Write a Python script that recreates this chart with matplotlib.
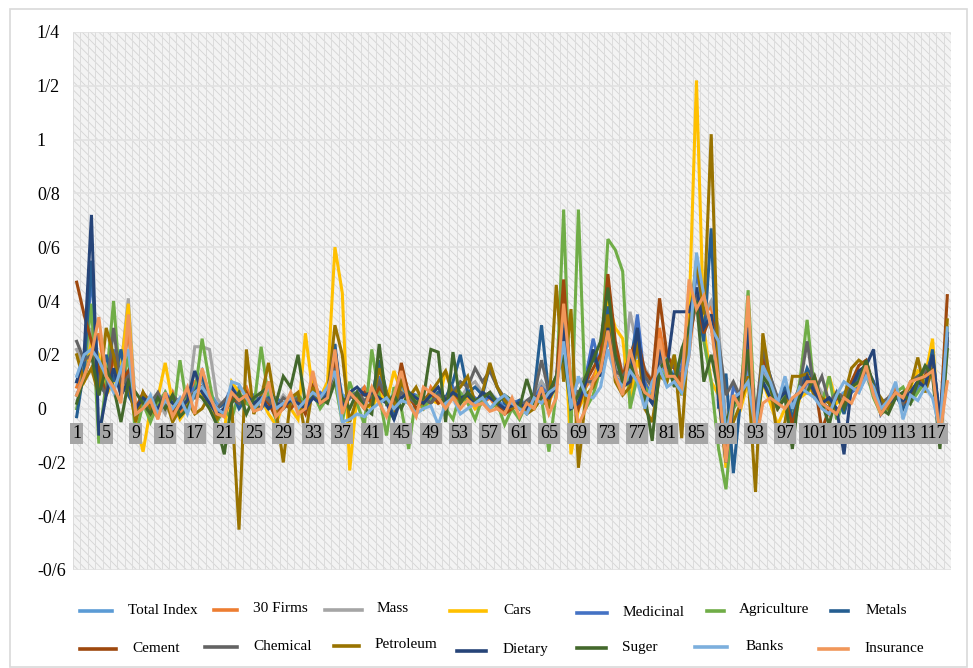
import matplotlib
matplotlib.use("Agg")
import matplotlib.pyplot as plt
from matplotlib.patches import Rectangle
from matplotlib.lines import Line2D
import numpy as np

names = ["Total Index", "30 Firms", "Mass", "Cars", "Medicinal", "Agriculture", "Metals",
         "Cement", "Chemical", "Petroleum", "Dietary", "Suger", "Banks", "Insurance"]
colors = ["#5B9BD5", "#ED7D31", "#A5A5A5", "#FFC000", "#4472C4", "#70AD47", "#255E91",
          "#9E480E", "#636363", "#997300", "#264478", "#43682B", "#7CAFDD", "#F1975A"]

total_index = [
    0.10, 0.18, 0.22, 0.15, 0.10, 0.20, 0.12, 0.30, -0.02, 0.04,
    0.00, 0.05, 0.02, 0.06, 0.00, 0.03, 0.08, 0.10, 0.06, 0.02,
    0.00, 0.05, 0.08, 0.06, 0.02, 0.04, 0.05, 0.00, 0.02, 0.03,
    0.04, 0.02, 0.10, 0.05, 0.06, 0.18, 0.05, 0.04, 0.06, 0.08,
    0.04, 0.10, 0.06, 0.02, 0.08, 0.04, 0.03, 0.02, 0.05, 0.06,
    0.03, 0.05, 0.04, 0.06, 0.03, 0.04, 0.06, 0.03, 0.01, 0.02,
    0.03, 0.02, 0.05, 0.10, 0.06, 0.12, 0.30, 0.08, 0.05, 0.12,
    0.10, 0.14, 0.25, 0.18, 0.12, 0.15, 0.20, 0.14, 0.08, 0.18,
    0.12, 0.14, 0.10, 0.25, 0.52, 0.40, 0.30, 0.18, -0.10, 0.02,
    0.05, 0.15, -0.05, 0.14, 0.06, 0.04, 0.08, 0.00, 0.05, 0.08,
    0.10, 0.02, 0.00, 0.04, 0.06, 0.08, 0.06, 0.12, 0.08, 0.00,
    0.02, 0.06, 0.03, 0.05, 0.08, 0.10, 0.20, -0.05, 0.25]
firms_30 = [
    0.08, 0.15, 0.20, 0.28, 0.10, 0.18, 0.05, 0.30, 0.00, 0.03,
    -0.02, 0.04, 0.00, 0.06, -0.02, 0.02, 0.10, 0.12, 0.04, 0.00,
    -0.03, 0.05, 0.06, 0.08, 0.00, 0.04, 0.10, -0.02, 0.00, 0.03,
    0.06, 0.00, 0.12, 0.03, 0.05, 0.20, 0.00, 0.06, 0.04, 0.08,
    0.02, 0.10, 0.05, 0.00, 0.15, 0.06, 0.02, 0.00, 0.08, 0.04,
    0.02, 0.04, 0.03, 0.05, 0.00, 0.02, 0.04, 0.00, -0.02, 0.01,
    0.03, 0.00, 0.05, 0.06, 0.02, 0.10, 0.40, 0.05, 0.00, 0.08,
    0.12, 0.18, 0.35, 0.15, 0.10, 0.20, 0.25, 0.12, 0.08, 0.30,
    0.15, 0.12, 0.05, 0.20, 0.45, 0.35, 0.38, 0.20, -0.15, 0.00,
    0.06, 0.35, -0.08, 0.18, 0.08, 0.02, 0.05, -0.05, 0.06, 0.10,
    0.12, 0.04, -0.02, 0.06, 0.04, 0.10, 0.14, 0.15, 0.06, 0.00,
    0.04, 0.08, 0.02, 0.06, 0.10, 0.12, 0.15, -0.08, 0.30]
mass = [
    0.22, 0.15, 0.30, 0.10, 0.05, 0.12, 0.15, 0.41, 0.00, 0.02,
    0.00, 0.03, -0.02, 0.05, 0.02, 0.00, 0.23, 0.23, 0.22, 0.04,
    0.00, 0.06, 0.02, 0.05, 0.00, 0.04, 0.02, 0.00, 0.05, 0.02,
    0.04, 0.00, 0.08, 0.02, 0.04, 0.12, 0.03, 0.00, 0.05, 0.06,
    0.02, 0.08, 0.04, 0.00, 0.06, 0.02, 0.04, 0.00, 0.03, 0.05,
    0.02, 0.06, 0.04, 0.08, 0.10, 0.06, 0.05, 0.02, 0.00, 0.03,
    0.02, 0.00, 0.04, 0.10, 0.05, 0.08, 0.30, 0.06, 0.10, 0.12,
    0.08, 0.15, 0.30, 0.16, 0.10, 0.36, 0.22, 0.15, 0.10, 0.20,
    0.18, 0.15, 0.12, 0.28, 0.45, 0.35, 0.40, 0.30, -0.05, 0.04,
    0.06, 0.20, -0.06, 0.15, 0.08, 0.02, 0.06, 0.00, 0.04, 0.08,
    0.10, 0.06, 0.02, 0.05, 0.04, 0.06, 0.10, 0.12, 0.06, 0.00,
    0.04, 0.05, 0.02, 0.06, 0.10, 0.14, 0.18, -0.04, 0.28]
cars = [
    0.05, 0.10, 0.25, 0.20, 0.05, 0.10, 0.15, 0.39, -0.05, -0.16,
    0.00, 0.04, 0.17, 0.02, -0.04, 0.00, 0.06, 0.05, 0.00, -0.05,
    -0.08, 0.10, 0.06, 0.02, 0.00, 0.04, -0.02, -0.06, 0.02, 0.00,
    -0.04, 0.28, 0.06, 0.04, 0.10, 0.60, 0.43, -0.23, 0.05, 0.02,
    0.00, 0.06, 0.02, 0.14, 0.06, 0.02, 0.04, 0.00, 0.03, 0.02,
    0.14, 0.06, 0.02, 0.04, 0.00, 0.03, 0.05, 0.02, 0.00, 0.01,
    0.00, 0.02, 0.04, 0.06, 0.03, 0.08, 0.35, -0.17, 0.00, 0.05,
    0.08, 0.20, 0.40, 0.30, 0.26, 0.02, 0.18, 0.10, 0.05, 0.22,
    0.15, 0.10, 0.12, 0.35, 1.22, 0.30, 0.10, 0.05, -0.22, 0.05,
    0.00, 0.10, -0.10, 0.10, 0.02, -0.06, 0.00, -0.08, 0.04, 0.06,
    0.08, 0.00, 0.12, 0.02, 0.04, 0.06, 0.10, 0.16, 0.05, -0.02,
    0.00, 0.06, 0.04, 0.08, 0.14, 0.12, 0.26, -0.13, 0.25]
medicinal = [
    0.05, 0.12, 0.50, 0.10, 0.05, 0.22, 0.08, 0.12, 0.00, 0.02,
    0.04, 0.00, 0.06, 0.02, 0.00, 0.05, 0.08, 0.14, 0.05, 0.00,
    0.02, 0.08, 0.04, 0.02, 0.05, 0.03, 0.00, 0.04, 0.02, 0.03,
    0.05, 0.00, 0.04, 0.06, 0.03, 0.22, 0.02, 0.06, 0.05, 0.06,
    0.02, 0.12, 0.04, -0.03, 0.04, 0.06, 0.05, 0.02, 0.04, 0.06,
    0.03, 0.08, 0.02, 0.06, 0.04, 0.02, 0.05, 0.03, 0.00, 0.02,
    0.03, 0.01, 0.04, 0.08, 0.05, 0.10, 0.28, 0.04, 0.02, 0.12,
    0.26, 0.15, 0.30, 0.12, 0.08, 0.14, 0.35, 0.10, 0.04, 0.18,
    0.14, 0.10, 0.16, 0.30, 0.50, 0.38, 0.30, 0.20, -0.10, 0.08,
    0.04, 0.25, -0.05, 0.16, 0.10, 0.04, 0.06, 0.00, 0.04, 0.10,
    0.06, 0.02, 0.00, 0.05, 0.02, 0.06, 0.08, 0.14, 0.10, -0.02,
    0.02, 0.04, 0.06, 0.02, 0.08, 0.12, 0.20, -0.05, 0.24]
agriculture = [
    0.00, 0.15, 0.39, -0.13, 0.10, 0.40, 0.05, 0.20, -0.10, 0.02,
    -0.05, 0.02, 0.06, -0.04, 0.18, 0.00, 0.05, 0.26, 0.10, -0.05,
    0.00, -0.04, 0.06, 0.02, 0.00, 0.23, 0.04, -0.04, 0.02, 0.00,
    0.05, 0.02, 0.06, 0.00, 0.04, 0.10, -0.05, 0.10, 0.02, -0.06,
    0.22, 0.05, -0.10, 0.08, 0.00, -0.15, 0.05, 0.00, 0.04, 0.06,
    0.00, -0.04, 0.06, 0.02, -0.04, 0.04, 0.00, 0.02, -0.06, 0.00,
    -0.04, 0.02, 0.00, 0.04, -0.16, 0.06, 0.74, -0.08, 0.74, 0.00,
    0.05, 0.15, 0.63, 0.59, 0.51, 0.00, 0.12, 0.08, 0.04, 0.15,
    0.10, 0.20, 0.05, 0.30, 0.40, 0.25, 0.10, -0.15, -0.30, 0.00,
    0.04, 0.44, -0.05, 0.10, 0.04, 0.00, 0.06, -0.04, 0.10, 0.33,
    0.06, 0.02, 0.12, -0.04, 0.02, 0.08, 0.12, 0.14, 0.04, -0.02,
    0.00, 0.06, 0.08, 0.02, 0.06, 0.10, 0.16, -0.10, 0.30]
metals = [
    -0.03, 0.15, 0.55, 0.05, 0.20, 0.10, 0.22, 0.05, 0.00, 0.04,
    0.00, 0.05, 0.02, 0.04, 0.00, 0.03, 0.06, 0.12, 0.04, 0.00,
    0.02, 0.06, 0.00, 0.04, 0.02, 0.00, 0.04, 0.02, 0.00, 0.03,
    0.02, 0.00, 0.05, 0.02, 0.06, 0.24, 0.00, 0.04, 0.06, 0.02,
    0.04, 0.18, 0.06, -0.04, 0.10, 0.05, 0.02, 0.04, 0.02, 0.06,
    0.04, 0.10, 0.20, 0.06, 0.08, 0.05, 0.16, 0.08, 0.02, 0.00,
    0.03, 0.00, 0.06, 0.31, 0.05, 0.10, 0.35, 0.00, 0.05, 0.10,
    0.20, 0.12, 0.38, 0.20, 0.10, 0.18, 0.30, 0.06, 0.02, 0.20,
    0.15, 0.12, 0.20, 0.30, 0.40, 0.25, 0.67, 0.00, 0.13, -0.24,
    0.04, 0.30, -0.08, 0.20, 0.12, 0.02, 0.08, -0.04, 0.06, 0.15,
    0.10, 0.02, 0.00, 0.06, -0.02, 0.08, 0.12, 0.16, 0.10, 0.00,
    0.02, 0.05, 0.00, 0.06, 0.10, 0.08, 0.22, -0.08, 0.26]
cement = [
    0.47, 0.35, 0.25, 0.15, 0.05, 0.20, 0.10, 0.14, 0.00, 0.06,
    0.02, 0.00, 0.05, -0.02, 0.03, 0.00, 0.06, 0.08, 0.04, 0.00,
    -0.02, 0.04, 0.02, 0.06, 0.00, 0.04, 0.02, -0.03, 0.02, 0.00,
    0.03, -0.02, 0.08, 0.02, 0.04, 0.18, 0.02, 0.05, 0.03, 0.06,
    0.02, 0.08, 0.04, 0.00, 0.17, 0.05, 0.00, 0.03, 0.06, 0.02,
    0.04, 0.06, 0.03, 0.05, 0.02, 0.04, 0.06, 0.02, -0.02, 0.00,
    0.02, 0.00, 0.04, 0.05, 0.03, 0.10, 0.48, 0.06, 0.00, 0.10,
    0.15, 0.20, 0.50, 0.25, 0.12, 0.20, 0.26, 0.14, 0.10, 0.41,
    0.20, 0.15, 0.10, 0.25, 0.40, 0.28, 0.35, 0.22, -0.12, 0.02,
    0.05, 0.30, -0.05, 0.20, 0.10, 0.00, 0.04, -0.06, 0.05, 0.12,
    0.10, -0.08, 0.00, 0.04, 0.02, 0.10, 0.16, 0.18, 0.08, 0.02,
    0.00, 0.06, 0.02, 0.04, 0.10, 0.12, 0.18, -0.06, 0.42]
chemical = [
    0.25, 0.18, 0.20, 0.10, 0.05, 0.30, 0.08, 0.12, 0.00, 0.04,
    0.02, 0.06, 0.00, 0.05, 0.02, 0.06, 0.04, 0.08, 0.02, 0.00,
    0.03, 0.06, 0.02, 0.04, 0.00, 0.05, 0.03, 0.00, 0.04, 0.02,
    0.04, 0.00, 0.06, 0.03, 0.05, 0.15, 0.02, 0.04, 0.06, 0.03,
    0.05, 0.10, 0.04, 0.00, 0.06, 0.04, 0.02, 0.04, 0.02, 0.05,
    0.04, 0.06, 0.10, 0.08, 0.15, 0.10, 0.14, 0.08, 0.04, 0.02,
    0.00, 0.03, 0.05, 0.18, 0.06, 0.12, 0.25, 0.08, 0.06, 0.10,
    0.10, 0.14, 0.32, 0.14, 0.12, 0.16, 0.22, 0.12, 0.08, 0.18,
    0.14, 0.16, 0.12, 0.25, 0.42, 0.36, 0.32, 0.25, 0.05, 0.10,
    0.04, 0.18, -0.04, 0.22, 0.12, 0.04, 0.06, 0.02, 0.08, 0.25,
    0.06, 0.12, 0.02, 0.06, 0.04, 0.08, 0.10, 0.14, 0.06, 0.02,
    0.04, 0.06, 0.02, 0.10, 0.12, 0.14, 0.18, -0.05, 0.26]
petroleum = [
    0.20, 0.10, 0.15, 0.05, 0.30, 0.20, 0.05, 0.10, -0.05, 0.06,
    0.00, -0.03, 0.04, -0.05, 0.00, 0.03, -0.02, 0.00, 0.05, -0.04,
    0.00, 0.02, -0.45, 0.22, -0.02, 0.04, 0.17, 0.00, -0.20, 0.04,
    0.06, -0.10, 0.08, 0.02, 0.05, 0.31, 0.20, -0.05, 0.04, 0.00,
    0.02, 0.15, 0.06, 0.00, 0.10, 0.04, 0.08, 0.02, 0.06, 0.10,
    0.14, 0.05, 0.08, 0.12, 0.02, 0.06, 0.17, 0.08, 0.03, 0.00,
    0.02, -0.02, 0.00, 0.04, 0.00, 0.46, 0.10, 0.37, -0.22, 0.05,
    0.08, 0.15, 0.35, 0.10, 0.05, 0.08, 0.25, 0.00, -0.05, 0.12,
    0.10, 0.20, -0.11, 0.30, 0.55, 0.35, 1.02, 0.10, -0.05, -0.05,
    0.02, 0.12, -0.31, 0.28, 0.10, -0.12, -0.05, 0.12, 0.12, 0.13,
    0.04, 0.04, 0.02, -0.02, 0.04, 0.15, 0.18, 0.16, 0.08, 0.04,
    0.00, 0.04, 0.06, 0.08, 0.19, 0.06, 0.15, -0.12, 0.33]
dietary = [
    0.10, 0.20, 0.72, -0.10, 0.05, 0.15, 0.05, 0.10, 0.00, 0.04,
    0.02, 0.00, 0.05, 0.02, 0.00, 0.03, 0.14, 0.06, 0.02, -0.02,
    0.00, 0.08, 0.03, 0.05, 0.02, 0.04, 0.00, 0.02, 0.01, 0.03,
    0.02, 0.00, 0.04, 0.02, 0.05, 0.22, 0.00, 0.06, 0.08, 0.05,
    0.06, 0.04, 0.02, -0.04, 0.04, 0.06, 0.04, 0.02, 0.05, 0.08,
    0.03, 0.06, 0.04, 0.05, 0.02, 0.06, 0.04, 0.02, 0.00, 0.01,
    0.02, 0.00, 0.03, 0.06, 0.04, 0.08, 0.30, 0.00, 0.02, 0.10,
    0.22, 0.12, 0.30, 0.12, 0.08, 0.10, 0.30, 0.06, 0.02, 0.22,
    0.15, 0.36, 0.36, 0.36, 0.45, 0.30, 0.35, 0.05, -0.20, 0.02,
    0.06, 0.30, -0.05, 0.10, 0.04, 0.03, 0.06, 0.02, 0.04, 0.12,
    0.06, 0.02, 0.04, 0.00, -0.17, 0.08, 0.14, 0.16, 0.22, -0.02,
    0.02, 0.04, 0.03, 0.06, 0.10, 0.08, 0.20, -0.04, 0.28]
suger = [
    0.02, 0.12, 0.20, 0.05, 0.15, 0.08, -0.05, 0.10, 0.06, 0.02,
    -0.02, 0.04, 0.00, 0.05, -0.03, 0.00, 0.06, 0.04, 0.00, -0.06,
    -0.17, 0.02, 0.06, -0.02, 0.04, 0.06, 0.08, 0.02, 0.12, 0.08,
    0.20, 0.02, 0.06, 0.04, 0.02, 0.10, 0.04, 0.00, 0.06, 0.00,
    -0.02, 0.24, 0.02, 0.05, 0.00, 0.06, 0.02, 0.04, 0.22, 0.21,
    -0.05, 0.21, 0.02, 0.06, 0.03, 0.04, 0.06, 0.02, 0.05, 0.03,
    0.00, 0.11, 0.02, 0.04, 0.06, 0.12, 0.20, 0.00, 0.05, 0.12,
    0.18, 0.25, 0.45, 0.20, 0.10, 0.16, 0.12, 0.05, -0.12, 0.15,
    0.18, 0.08, 0.22, 0.30, 0.40, 0.10, 0.20, 0.06, -0.05, 0.02,
    0.04, 0.22, -0.10, 0.12, 0.08, 0.00, 0.04, -0.15, 0.08, 0.06,
    0.12, 0.02, -0.06, 0.06, 0.00, 0.08, 0.10, 0.18, 0.08, 0.00,
    -0.02, 0.04, 0.06, 0.02, 0.10, 0.16, 0.12, -0.15, 0.22]
banks = [
    0.12, 0.20, 0.22, 0.18, 0.12, 0.06, 0.15, 0.22, -0.02, 0.00,
    0.05, -0.02, 0.03, 0.00, 0.04, -0.02, 0.06, 0.08, 0.04, 0.00,
    -0.02, 0.10, 0.09, 0.04, 0.00, 0.03, 0.08, 0.00, 0.02, 0.04,
    0.00, 0.03, 0.06, 0.04, 0.08, 0.14, -0.05, -0.04, -0.02, -0.03,
    0.00, 0.02, 0.04, 0.00, 0.03, 0.02, -0.02, 0.00, 0.01, -0.06,
    0.02, 0.04, -0.02, 0.00, 0.02, 0.04, 0.00, 0.03, 0.05, 0.02,
    0.00, -0.02, 0.04, 0.02, 0.06, 0.08, 0.25, 0.00, 0.12, 0.05,
    0.04, 0.08, 0.22, 0.12, 0.08, 0.14, 0.10, 0.00, 0.10, 0.15,
    0.08, 0.10, 0.06, 0.20, 0.58, 0.42, 0.30, 0.25, -0.10, 0.04,
    0.06, 0.10, -0.08, 0.16, 0.10, 0.02, 0.12, 0.00, 0.08, 0.06,
    0.04, 0.00, -0.02, 0.05, 0.10, 0.08, 0.06, 0.12, 0.08, 0.00,
    0.03, 0.10, -0.04, 0.05, 0.03, 0.08, 0.04, -0.08, 0.30]
insurance = [
    0.05, 0.12, 0.20, 0.34, 0.12, 0.08, 0.02, 0.35, -0.02, 0.00,
    0.03, -0.04, 0.06, -0.03, 0.02, 0.08, -0.02, 0.15, 0.05, -0.02,
    -0.03, 0.06, 0.03, 0.05, -0.01, 0.00, 0.10, -0.03, 0.00, 0.06,
    -0.02, 0.00, 0.14, 0.02, 0.04, 0.22, -0.02, 0.06, 0.03, 0.00,
    0.08, 0.02, -0.03, 0.05, 0.14, 0.02, -0.03, 0.08, 0.06, 0.04,
    0.00, 0.04, 0.00, 0.03, 0.01, 0.02, -0.01, 0.00, -0.02, 0.04,
    -0.03, 0.02, 0.00, 0.08, -0.02, 0.04, 0.39, 0.10, -0.06, 0.00,
    0.10, 0.14, 0.29, 0.12, 0.05, 0.22, 0.12, 0.06, 0.04, 0.26,
    0.12, 0.12, 0.08, 0.48, 0.37, 0.42, 0.30, 0.10, -0.20, 0.05,
    0.00, 0.42, -0.13, 0.02, 0.04, 0.02, 0.00, 0.04, 0.06, 0.10,
    0.10, 0.02, 0.00, -0.02, 0.04, 0.02, 0.08, 0.16, 0.05, -0.02,
    0.02, 0.06, 0.04, 0.10, 0.11, 0.12, 0.14, -0.10, 0.10]

series = [total_index, firms_30, mass, cars, medicinal, agriculture, metals,
          cement, chemical, petroleum, dietary, suger, banks, insurance]

x_labels = ["1", "5", "9", "15", "17", "21", "25", "29", "33", "37", "41", "45", "49", "53", "57",
            "61", "65", "69", "73", "77", "81", "85", "89", "93", "97", "101", "105", "109", "113", "117"]
y_ticks = [-0.6, -0.4, -0.2, 0, 0.2, 0.4, 0.6, 0.8, 1.0, 1.2, 1.4]
y_labels = ["-0/6", "-0/4", "-0/2", "0", "0/2", "0/4", "0/6", "0/8", "1", "1/2", "1/4"]

# legend layout in figure pixels: line start, line end, text x, row y
leg_pos = [(80, 112, 128, 610), (214, 237, 253, 609), (325, 362, 377, 609), (450, 486, 503, 610),
           (577, 607, 623, 612), (707, 724, 739, 610), (831, 848, 866, 610),
           (80, 116, 132, 648), (205, 237, 253, 646), (334, 359, 375, 645), (457, 486, 503, 650),
           (577, 606, 622, 647), (695, 727, 746, 646), (819, 848, 864, 648)]

W, H = 973, 668
plt.rcParams['font.family'] = ['Liberation Serif', 'DejaVu Serif']
plt.rcParams['hatch.linewidth'] = 0.6
plt.rcParams['hatch.color'] = '#d4d4d4'

fig = plt.figure(figsize=(W / 100, H / 100), dpi=100)
fig.patches.append(Rectangle((10 / W, 1 / H), 957 / W, 658 / H, transform=fig.transFigure,
                             fill=False, edgecolor='#d9d9d9', linewidth=1.2))

ax = fig.add_axes([73 / W, (H - 570) / H, 878 / W, 538 / H])
ax.set_facecolor('#f3f3f3')
ax.add_patch(Rectangle((0, 0), 1, 1, transform=ax.transAxes, facecolor='none',
                       hatch='\\\\\\\\', linewidth=0, zorder=0))

n = len(total_index)
for s in series:
    assert len(s) == n
xs = np.arange(1, n + 1)

for s, name, c in zip(series, names, colors):
    ax.plot(xs, s, color=c, linewidth=2.2, label=name, zorder=3, solid_joinstyle='miter')

ax.set_xlim(0.5, n + 0.5)
ax.set_ylim(-0.6, 1.4)
ax.set_yticks(y_ticks)
ax.set_yticklabels(y_labels, fontsize=13)
for lbl in ax.get_yticklabels():
    lbl.set_ha('left')
ax.tick_params(axis='y', length=0, pad=26)
ax.set_xticks(np.arange(0.5, n + 1, 1.0))
ax.set_xticklabels([])
ax.tick_params(axis='x', length=0)
ax.grid(axis='x', color='#dcdcdc', linewidth=0.7, zorder=1)
ax.grid(axis='y', color='#e2e2e2', linewidth=1.2, zorder=1)
ax.set_axisbelow(True)
for sp in ax.spines.values():
    sp.set_visible(False)

for k, lab in enumerate(x_labels):
    ax.text(1 + 4 * k, -0.092, lab, ha='center', va='center', fontsize=13, color='black', zorder=5,
            bbox=dict(boxstyle='square,pad=0.12', facecolor='#a6a6a6', edgecolor='none'))

for (x0, x1, tx, ty), name, c in zip(leg_pos, names, colors):
    fig.lines.append(Line2D([x0 / W, x1 / W], [1 - (ty + 1) / H, 1 - (ty + 1) / H],
                            transform=fig.transFigure, color=c, linewidth=2.6))
    fig.text(tx / W, 1 - ty / H, name, ha='left', va='center', fontsize=11)

fig.savefig("out.png", dpi=100)
